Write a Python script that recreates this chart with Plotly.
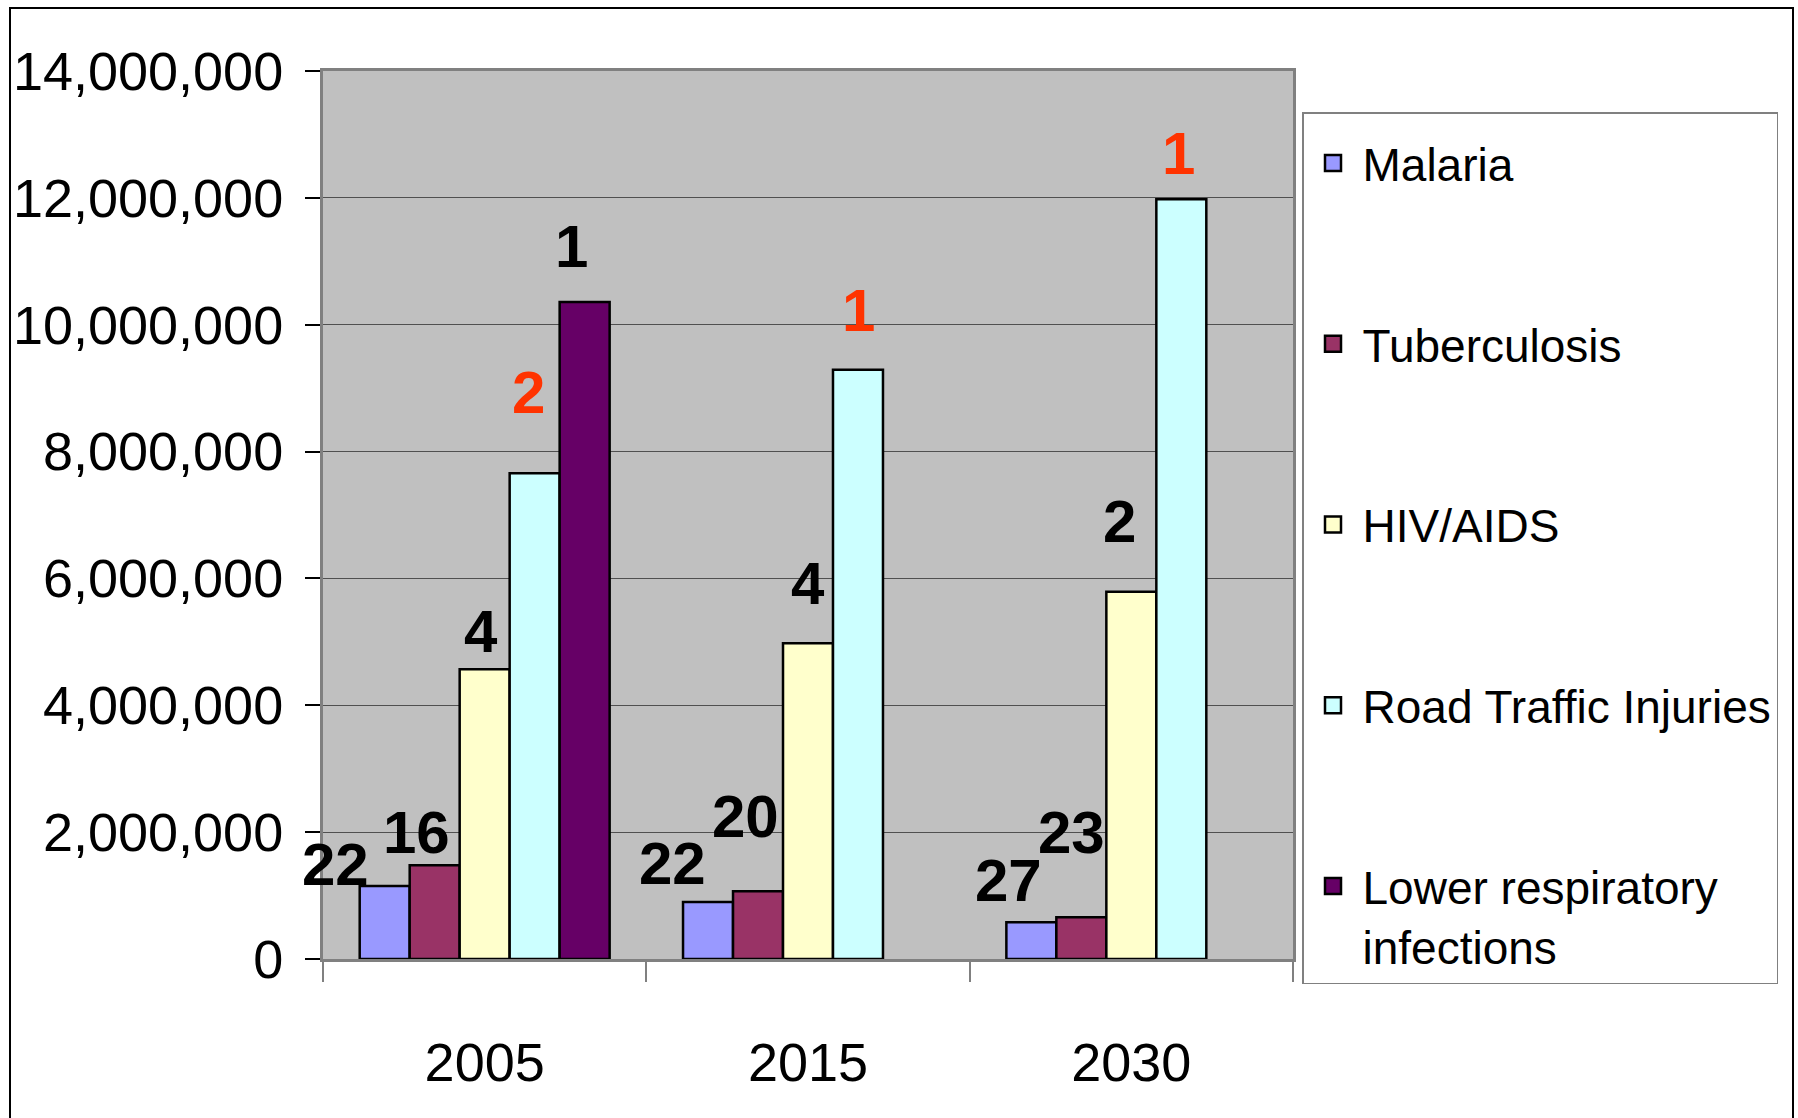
import plotly.graph_objects as go

# ---- data ----
years = ["2005", "2015", "2030"]
series_names = ["Malaria", "Tuberculosis", "HIV/AIDS", "Road Traffic Injuries",
                "Lower respiratory<br>infections"]
malaria = [1150000, 900000, 580000]
tuberculosis = [1480000, 1070000, 660000]
hiv_aids = [4570000, 4980000, 5790000]
road_traffic = [7660000, 9290000, 11980000]
lower_resp = [10360000, None, None]

# rank labels shown above bars (None = no label)
rank_malaria = ["22", "22", "27"]
rank_tb = ["16", "20", "23"]
rank_hiv = ["4", "4", "2"]
rank_road = ["2", "1", "1"]
rank_lri = ["1", None, None]

y_ticks = [0, 2000000, 4000000, 6000000, 8000000, 10000000, 12000000, 14000000]

# ---- styles ----
colors = ["#9999FF", "#993366", "#FFFFCC", "#CCFFFF", "#660066"]
RED = "#FF3300"
rank_colors = [
    ["black", "black", "black"],
    ["black", "black", "black"],
    ["black", "black", "black"],
    [RED, RED, RED],
    ["black", "black", "black"],
]
# pixel nudges of each label (dx, dy up) relative to its bar top centre
label_nudges = [
    [(-49, 22), (-36, 38), (-23, 42)],
    [(-18, 33), (-13, 75), (-10, 85)],
    [(-4, 38), (0, 60), (-12, 70)],
    [(-6, 81), (1, 59), (-3, 46)],
    [(-13, 55), (0, 0), (0, 0)],
]

FONT = "Liberation Sans, Arial, sans-serif"

W, H = 1798, 1118
L, R, T, B = 323, 505, 71, 159
BARGAP = 0.227

all_values = [malaria, tuberculosis, hiv_aids, road_traffic, lower_resp]
all_ranks = [rank_malaria, rank_tb, rank_hiv, rank_road, rank_lri]

fig = go.Figure()
for i, (name, vals) in enumerate(zip(series_names, all_values)):
    fig.add_trace(go.Bar(
        x=years, y=vals, name=name, legendgroup=f"g{i}", showlegend=False,
        marker=dict(color=colors[i], line=dict(color="black", width=2.5)),
    ))

# legend proxies (larger square symbols)
for i, name in enumerate(series_names):
    fig.add_trace(go.Scatter(
        x=[None], y=[None], mode="markers", name=name, legendgroup=f"g{i}",
        marker=dict(symbol="square", size=16, color=colors[i],
                    line=dict(color="black", width=2.5)),
    ))

# rank annotations
n_series = len(series_names)
bar_w = (1 - BARGAP) / n_series
annotations = []
for i in range(n_series):
    for j, yr in enumerate(years):
        lab = all_ranks[i][j]
        val = all_values[i][j]
        if lab is None or val is None:
            continue
        dx, dy = label_nudges[i][j]
        annotations.append(dict(
            x=j + (i - (n_series - 1) / 2) * bar_w, y=val, xref="x", yref="y",
            text=f"<b>{lab}</b>", showarrow=False,
            xanchor="center", yanchor="middle", xshift=dx, yshift=dy,
            font=dict(family=FONT, size=60, color=rank_colors[i][j]),
        ))

pw, ph = W - L - R, H - T - B
def px_to_paper_x(px):
    return (px - L) / pw
def px_to_paper_y(py):
    return (H - B - py) / ph

shapes = [dict(
    type="rect", xref="paper", yref="paper",
    x0=px_to_paper_x(10), x1=px_to_paper_x(1793),
    y0=px_to_paper_y(1130), y1=px_to_paper_y(8),
    line=dict(color="black", width=2), fillcolor="rgba(0,0,0,0)", layer="below",
)]

fig.update_layout(
    width=W, height=H,
    margin=dict(l=L, r=R, t=T, b=B, pad=0, autoexpand=False),
    paper_bgcolor="white", plot_bgcolor="#C0C0C0",
    barmode="group", bargap=BARGAP, bargroupgap=0,
    font=dict(family=FONT, color="black"),
    showlegend=True,
    legend=dict(
        x=px_to_paper_x(1302), y=px_to_paper_y(112), xanchor="left", yanchor="top",
        bgcolor="white", bordercolor="#808080", borderwidth=1.5,
        font=dict(family=FONT, size=46, color="black"),
        title=dict(text="\u00a0", font=dict(size=10)),
        traceorder="grouped", tracegroupgap=118, valign="top", itemwidth=49,
    ),
    annotations=annotations,
    shapes=shapes,
    hovermode=False,
)

fig.update_xaxes(
    type="category", range=[-0.5, 2.5], autorange=False, automargin=False,
    showgrid=False, zeroline=False,
    showline=True, linecolor="#808080", linewidth=3, mirror=True,
    ticks="outside", tickson="boundaries", ticklen=20, tickcolor="#808080", tickwidth=2,
    tickfont=dict(family=FONT, size=54, color="black"), ticklabelstandoff=54,
)
fig.update_yaxes(
    range=[0, 14000000], autorange=False, automargin=False,
    tickvals=y_ticks, tickformat=",",
    showgrid=True, gridcolor="#505050", gridwidth=1, zeroline=False,
    showline=True, linecolor="#808080", linewidth=3, mirror=True,
    ticks="outside", ticklen=15, tickcolor="black", tickwidth=1.5,
    tickfont=dict(family=FONT, size=54, color="black"), ticklabelstandoff=11,
)

fig.write_html("out.html", config={"displayModeBar": False},
               post_script="document.body.style.margin='0';")
